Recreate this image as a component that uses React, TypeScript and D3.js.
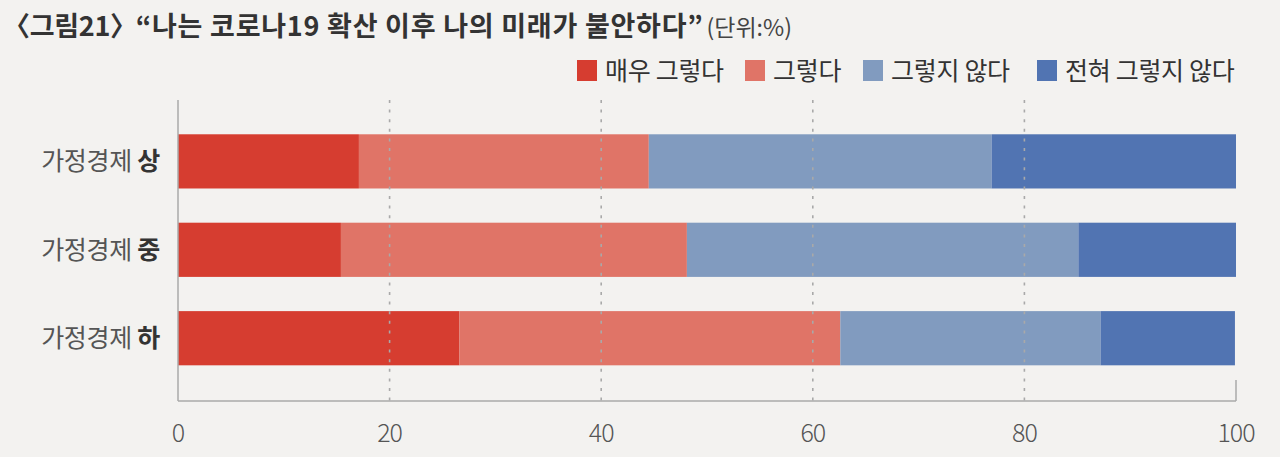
import * as d3 from 'd3'

const categories = ['상', '중', '하']
const seriesNames = ['매우 그렇다', '그렇다', '그렇지 않다', '전혀 그렇지 않다']
const veryMuch = [17.1, 15.4, 26.6]
const agree = [27.4, 32.7, 36.0]
const disagree = [32.4, 37.0, 24.6]
const stronglyDisagree = [23.1, 14.9, 12.7]
const xTicks = [0, 20, 40, 60, 80, 100]
const colors = ['#d63d30', '#e07467', '#819bbf', '#5174b2']

const W = 1280
const H = 457
const X0 = 178
const X1 = 1236
const AXIS_TOP = 100
const AXIS_Y = 401
const FONT = '"Noto Sans CJK KR","Noto Sans",sans-serif'

// legend item x positions (square left edge)
const legendX = [577, 745, 863, 1037]

export default function App() {
  const rows = categories.map((cat, i) => ({
    cat,
    values: [veryMuch[i], agree[i], disagree[i], stronglyDisagree[i]],
  }))

  const xScale = d3.scaleLinear().domain([0, 100]).range([X0, X1])
  const yScale = d3
    .scaleBand<string>()
    .domain(categories)
    .range([116.6, 383])
    .paddingInner(0.387)
    .paddingOuter(0.2)
  const bh = yScale.bandwidth()

  return (
    <div style={{ position: 'absolute', left: 0, top: 0, width: W, height: H, background: '#f3f2f0' }}>
      <svg width={W} height={H} style={{ display: 'block' }} fontFamily={FONT}>
        <rect x={0} y={0} width={W} height={H} fill="#f3f2f0" />

        {/* Title */}
        <text x={3} y={36} fontSize={27} fontWeight={700} fill="#333" letterSpacing={-0.3}>
          〈그림21〉
          <tspan dx={-1} letterSpacing={0.75}>“나는 코로나19 확산 이후 나의 미래가 불안하다”</tspan>
          <tspan dx={3} fontSize={23} fontWeight={400} fill="#444" letterSpacing={0}>
            (단위:%)
          </tspan>
        </text>

        {/* Legend */}
        {seriesNames.map((name, i) => (
          <g key={name}>
            <rect x={legendX[i]} y={60} width={20} height={21} fill={colors[i]} />
            <text x={legendX[i] + 28} y={80} fontSize={25} fill="#333" letterSpacing={-0.3}>
              {name}
            </text>
          </g>
        ))}

        {/* Bars */}
        {rows.map((r) => {
          let acc = 0
          return (
            <g key={r.cat}>
              {r.values.map((v, j) => {
                const start = acc
                acc += v
                return (
                  <rect
                    key={j}
                    x={xScale(start)}
                    y={yScale(r.cat)}
                    width={xScale(acc) - xScale(start)}
                    height={bh}
                    fill={colors[j]}
                  />
                )
              })}
            </g>
          )
        })}

        {/* Dotted grid lines */}
        {xTicks
          .filter((t) => t > 0 && t < 100)
          .map((t) => (
            <line
              key={t}
              x1={xScale(t)}
              x2={xScale(t)}
              y1={AXIS_TOP}
              y2={AXIS_Y}
              stroke="#a9a9a9"
              strokeWidth={1.6}
              strokeDasharray="3 6.6"
            />
          ))}

        {/* Axes */}
        <line x1={X0} x2={X0} y1={AXIS_TOP} y2={AXIS_Y} stroke="#aaa" strokeWidth={1.5} />
        <line x1={X0} x2={X1} y1={AXIS_Y} y2={AXIS_Y} stroke="#aaa" strokeWidth={1.5} />
        <line x1={X1} x2={X1} y1={380} y2={AXIS_Y} stroke="#aaa" strokeWidth={1.5} />

        {/* X tick labels */}
        {xTicks.map((t) => (
          <text
            key={t}
            x={xScale(t)}
            y={442}
            textAnchor="middle"
            fontSize={25}
            fontWeight={300}
            fill="#555"
            letterSpacing={-1}
          >
            {t}
          </text>
        ))}

        {/* Category labels */}
        {categories.map((c) => (
          <text
            key={c}
            x={160}
            y={(yScale(c) ?? 0) + bh / 2 + 9}
            textAnchor="end"
            fontSize={25}
            fill="#555"
            letterSpacing={-0.3}
          >
            가정경제{' '}
            <tspan fontWeight={700} fill="#333">
              {c}
            </tspan>
          </text>
        ))}
      </svg>
    </div>
  )
}
